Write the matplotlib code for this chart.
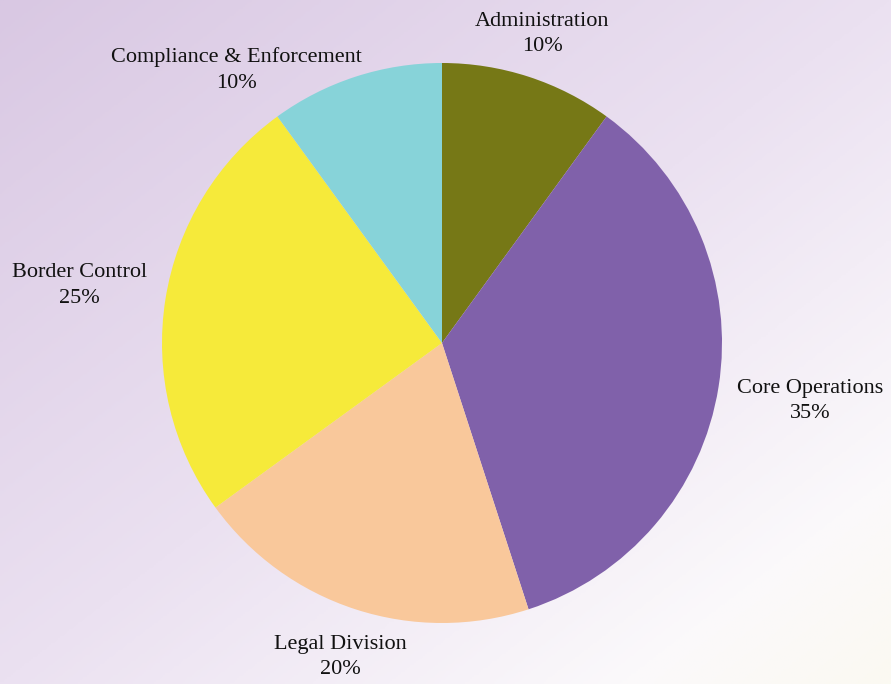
import numpy as np
import matplotlib.pyplot as plt
from matplotlib.colors import LinearSegmentedColormap

plt.rcParams['font.family'] = ['Liberation Serif', 'DejaVu Serif']

departments = ['Administration', 'Core Operations', 'Legal Division',
               'Border Control', 'Compliance & Enforcement']
shares = [10, 35, 20, 25, 10]
colors = ['#767816', '#8061aa', '#f9c89b', '#f6ea3a', '#87d3d9']

# per-label placement: radial distance (in radii) and angle nudge (degrees)
label_place = [(1.16, 0), (1.33, 0), (1.18, 0), (1.31, 0), (1.22, 19)]

W, H = 891, 684
fig = plt.figure(figsize=(W / 100, H / 100), dpi=100)

# diagonal background wash
bg = fig.add_axes([0, 0, 1, 1], zorder=-10)
xx, yy = np.meshgrid(np.linspace(0, 1, 400), np.linspace(0, 1, 300))
t = (xx + yy) / 2
wash = LinearSegmentedColormap.from_list(
    'wash', [(0, '#d9c8e3'), (0.5, '#ebe1f1'), (0.85, '#fbf9fb'), (1, '#fbfaf2')])
bg.imshow(t, cmap=wash, aspect='auto', extent=[0, 1, 1, 0])
bg.set_axis_off()

cx, cy, r = 442, 343, 280
ax = fig.add_axes([(cx - r) / W, (H - cy - r) / H, 2 * r / W, 2 * r / H])
ax.patch.set_alpha(0)
wedges, _ = ax.pie(shares, colors=colors, startangle=90, counterclock=False,
                   radius=1, wedgeprops=dict(linewidth=0))
ax.set_xlim(-1, 1)
ax.set_ylim(-1, 1)
ax.set_aspect('equal')
ax.set_axis_off()

for w, name, val, (dist, nudge) in zip(wedges, departments, shares, label_place):
    mid = np.deg2rad((w.theta1 + w.theta2) / 2 + nudge)
    ax.text(dist * np.cos(mid), dist * np.sin(mid), f'{name}\n{val}%',
            ha='center', va='center', fontsize=16, linespacing=1.45,
            color='#111111', clip_on=False)

fig.savefig('out.png', dpi=100)
